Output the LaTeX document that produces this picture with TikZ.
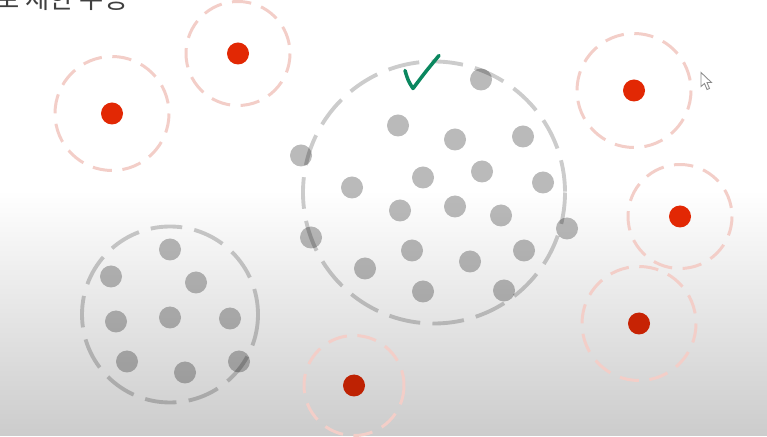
\documentclass[tikz,border=0pt]{standalone}
\usepackage{fontspec}
\newfontfamily\krfont{Noto Sans CJK KR}
\usetikzlibrary{arrows.meta}

\definecolor{dotred}{RGB}{226,40,4}
\definecolor{ringred}{RGB}{243,206,200}
\definecolor{tickgreen}{RGB}{10,135,95}

\tikzset{
  redring/.style={draw=ringred, line width=1.7pt, dash pattern=on 11pt off 6pt},
  grayring/.style={draw=black, draw opacity=0.2, line width=2.2pt, dash pattern=on 18pt off 7pt},
  reddot/.style={fill=dotred},
  graydot/.style={fill=black, fill opacity=0.27}
}

\begin{document}
\begin{tikzpicture}[x=0.02cm, y=-0.02cm]
      % background
      \fill[white] (0,0) rectangle (767,435);
      \shade[top color=white, bottom color=black!20] (0,190) rectangle (767,435);
      \begin{scope}
      \clip (0,0) rectangle (767,435);
      % heading, cut off at the top
      \node[anchor=base west, inner sep=0pt, text=black!75,
            font=\krfont\fontsize{15}{17}\selectfont] (head) at (-5,8) {로 제한 수용};
      \end{scope}
      % Red 1
      \draw[redring] (112,113) circle (57);
      \fill[reddot] (112,113) circle (11);
      % Red 2
      \draw[redring] (238,53) circle (52);
      \fill[reddot] (238,53) circle (11);
      % Red 3
      \draw[redring] (634,90) circle (57);
      \fill[reddot] (634,90) circle (11);
      % Red 4
      \draw[redring] (680,216) circle (52);
      \fill[reddot] (680,216) circle (11);
      % Red 5
      \draw[redring] (639,323) circle (57);
      \fill[dotred!88!black] (639,323) circle (11);
      % Red 6
      \draw[redring] (354,385) circle (50);
      \fill[dotred!84!black] (354,385) circle (11);
      % Big gray cluster: 20 dots
      \draw[grayring] (434,192) circle (131);
      \fill[graydot] (481,79) circle (11);  \fill[graydot] (398,125) circle (11);
      \fill[graydot] (455,139) circle (11); \fill[graydot] (523,136) circle (11);
      \fill[graydot] (301,155) circle (11); \fill[graydot] (352,187) circle (11);
      \fill[graydot] (423,177) circle (11); \fill[graydot] (482,171) circle (11);
      \fill[graydot] (543,182) circle (11); \fill[graydot] (400,210) circle (11);
      \fill[graydot] (455,206) circle (11); \fill[graydot] (501,215) circle (11);
      \fill[graydot] (567,228) circle (11); \fill[graydot] (311,237) circle (11);
      \fill[graydot] (412,250) circle (11); \fill[graydot] (470,261) circle (11);
      \fill[graydot] (524,250) circle (11); \fill[graydot] (365,268) circle (11);
      \fill[graydot] (423,291) circle (11); \fill[graydot] (504,290) circle (11);
      % Small gray cluster: 9 dots
      \draw[grayring] (170,314) circle (88);
      \fill[graydot] (170,249) circle (11); \fill[graydot] (111,276) circle (11);
      \fill[graydot] (196,282) circle (11); \fill[graydot] (116,321) circle (11);
      \fill[graydot] (170,317) circle (11); \fill[graydot] (230,318) circle (11);
      \fill[graydot] (127,361) circle (11); \fill[graydot] (185,372) circle (11);
      \fill[graydot] (239,361) circle (11);
      % check mark
      \draw[tickgreen, line width=2pt, line cap=round, line join=round]
        (405,70) .. controls (408,80) .. (413,88) .. controls (425,72) .. (439,55);
      % pointer
      \filldraw[fill=white, draw=black!45, line width=0.5pt]
        (701,72) -- (701,86) -- (704.5,83) -- (707,89) -- (709.5,88) -- (707,82) -- (711.5,82) -- cycle;
    \end{tikzpicture}
\end{document}
